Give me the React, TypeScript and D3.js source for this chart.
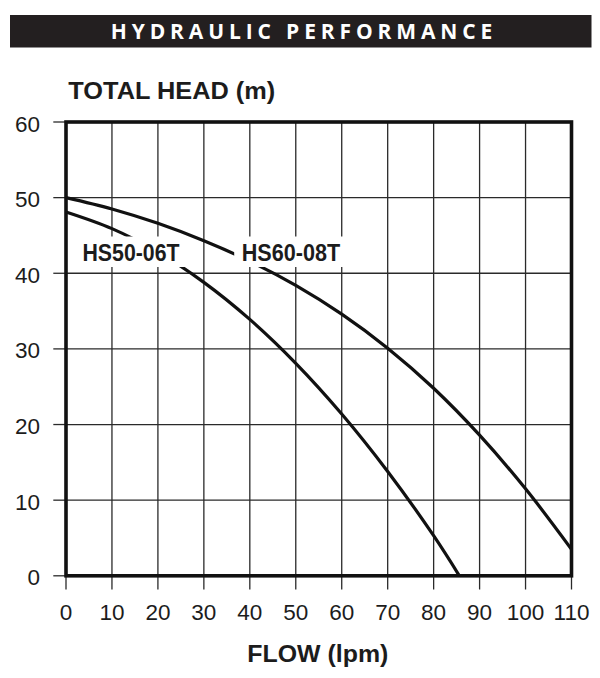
import React from "react";
import * as d3 from "d3";

// ---- Data ----
const xTicks = [0, 10, 20, 30, 40, 50, 60, 70, 80, 90, 100, 110];
const yTicks = [0, 10, 20, 30, 40, 50, 60];

const hs60Flow = [0, 10, 20, 30, 40, 50, 60, 70, 80, 90, 100, 110];
const hs60Head = [50, 48.5, 46.6, 44.3, 41.6, 38.4, 34.6, 30.1, 24.8, 18.6, 11.5, 3.5];

const hs50Flow = [0, 10, 20, 30, 40, 50, 60, 70, 80, 85.6];
const hs50Head = [48.1, 45.9, 42.8, 38.8, 33.9, 28.1, 21.4, 13.8, 5.3, 0];

const titleText = "HYDRAULIC PERFORMANCE";
const yTitle = "TOTAL HEAD (m)";
const xTitle = "FLOW (lpm)";
const seriesLabels = ["HS50-06T", "HS60-08T"];

const W = 600;
const H = 678;

export default function App() {
  const x = d3.scaleLinear().domain([0, 110]).range([66, 571.5]);
  const y = d3.scaleLinear().domain([0, 60]).range([575.8, 122]);

  const line = d3
    .line<[number, number]>()
    .x((d) => x(d[0]))
    .y((d) => y(d[1]))
    .curve(d3.curveCatmullRom.alpha(0.5));

  const hs60: [number, number][] = hs60Flow.map((f, i) => [f, hs60Head[i]]);
  const hs50: [number, number][] = hs50Flow.map((f, i) => [f, hs50Head[i]]);

  const font = "'Liberation Sans', Arial, Helvetica, sans-serif";
  const textColor = "#1c1c1c";

  const labels = [
    { text: seriesLabels[0], x: 82.5, y: 260.5, len: 97 },
    { text: seriesLabels[1], x: 241.7, y: 260.5, len: 98.5 },
  ];

  return (
    <svg
      width={W}
      height={H}
      style={{ position: "absolute", left: 0, top: 0, background: "#fff" }}
    >
      <rect x={0} y={0} width={W} height={H} fill="#fff" />
      {/* Title bar */}
      <rect x={10} y={15} width={581.5} height={32.5} fill="#231f20" />
      <text
        x={110.7}
        y={39.3}
        fill="#fff"
        fontFamily="'Open Sans', 'Noto Sans', sans-serif"
        fontWeight={700}
        fontSize={21}
        textLength={381.6}
        lengthAdjust="spacing"
      >
        {titleText}
      </text>

      {/* Y title */}
      <text
        x={68.3}
        y={99}
        fill={textColor}
        fontFamily={font}
        fontWeight={700}
        fontSize={23}
        textLength={207}
        lengthAdjust="spacingAndGlyphs"
      >
        {yTitle}
      </text>

      {/* Grid */}
      {xTicks.slice(1, -1).map((t) => (
        <line
          key={"gx" + t}
          x1={x(t)}
          x2={x(t)}
          y1={y(60)}
          y2={y(0)}
          stroke="#2a2a2a"
          strokeWidth={1.3}
        />
      ))}
      {yTicks.slice(1, -1).map((t) => (
        <line
          key={"gy" + t}
          x1={x(0)}
          x2={x(110)}
          y1={y(t)}
          y2={y(t)}
          stroke="#2a2a2a"
          strokeWidth={1.3}
        />
      ))}

      {/* Ticks */}
      {xTicks.map((t) => (
        <line
          key={"tx" + t}
          x1={x(t)}
          x2={x(t)}
          y1={y(0)}
          y2={589.5}
          stroke="#2a2a2a"
          strokeWidth={1.3}
        />
      ))}
      {yTicks.map((t) => (
        <line
          key={"ty" + t}
          x1={53.3}
          x2={x(0)}
          y1={y(t)}
          y2={y(t)}
          stroke="#2a2a2a"
          strokeWidth={1.3}
        />
      ))}

      {/* Curves */}
      <path d={line(hs60) || ""} fill="none" stroke="#111" strokeWidth={3.2} />
      <path d={line(hs50) || ""} fill="none" stroke="#111" strokeWidth={3.2} />

      {/* Series labels with white knockout */}
      {labels.map((l) => (
        <g key={l.text}>
          <rect
            x={l.x - 7.5}
            y={l.y - 24}
            width={l.len + 15}
            height={30.5}
            fill="#fff"
          />
          <text
            x={l.x}
            y={l.y}
            fill={textColor}
            fontFamily={font}
            fontWeight={700}
            fontSize={23}
            textLength={l.len}
            lengthAdjust="spacingAndGlyphs"
          >
            {l.text}
          </text>
        </g>
      ))}

      {/* Frame */}
      <rect
        x={x(0)}
        y={y(60)}
        width={x(110) - x(0)}
        height={y(0) - y(60)}
        fill="none"
        stroke="#111"
        strokeWidth={3.6}
      />

      {/* Tick labels */}
      {yTicks.map((t) => (
        <text
          key={"ly" + t}
          x={40}
          y={y(t) + 9.5}
          textAnchor="end"
          fill={textColor}
          fontFamily={font}
          fontSize={22.5}
        >
          {t}
        </text>
      ))}
      {xTicks.map((t) => (
        <text
          key={"lx" + t}
          x={x(t)}
          y={620}
          textAnchor="middle"
          fill={textColor}
          fontFamily={font}
          fontSize={22.5}
        >
          {t}
        </text>
      ))}

      {/* X title */}
      <text
        x={247.3}
        y={661.7}
        fill={textColor}
        fontFamily={font}
        fontWeight={700}
        fontSize={23}
        textLength={141}
        lengthAdjust="spacingAndGlyphs"
      >
        {xTitle}
      </text>
    </svg>
  );
}
